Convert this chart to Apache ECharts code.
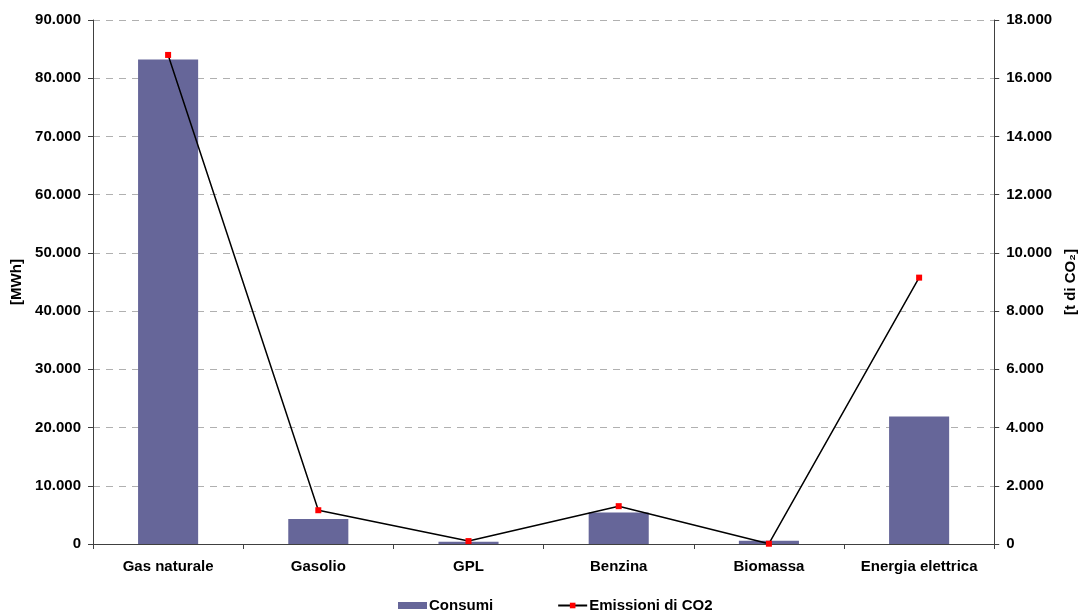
<!DOCTYPE html>
<html>
<head>
<meta charset="utf-8">
<script src="https://cdn.jsdelivr.net/npm/echarts@6/dist/echarts.min.js"></script>
<style>
  html, body { margin: 0; padding: 0; background: #ffffff; }
  #chart { width: 1086px; height: 614px; }
</style>
</head>
<body>
<div id="chart"></div>
<script>
// Energy consumption by source [MWh] and related CO2 emissions [t]
const categories = ['Gas naturale', 'Gasolio', 'GPL', 'Benzina', 'Biomassa', 'Energia elettrica'];
const consumi = [83200, 4300, 400, 5400, 550, 21900];
const emissioni = [16800, 1160, 100, 1300, 10, 9150];

// Italian thousands separator
function fmt(v) {
  return String(v).replace(/\B(?=(\d{3})+(?!\d))/g, '.');
}

const FONT = '"Liberation Sans", Arial, sans-serif';
const textStyle = { fontFamily: FONT, fontWeight: 'bold', fontSize: 15, color: '#000' };

const chart = echarts.init(document.getElementById('chart'), null, { renderer: 'canvas' });
chart.setOption({
  animation: false,
  backgroundColor: '#ffffff',
  textStyle: textStyle,
  grid: { left: 93, right: 83, top: 20, bottom: 70, containLabel: false },
  legend: {
    top: 593,
    left: 393,
    itemGap: 64,
    itemWidth: 29,
    itemHeight: 7,
    textStyle: Object.assign({}, textStyle, { padding: [0, 0, 0, -3] }),
    data: [
      { name: 'Consumi', icon: 'rect' },
      { name: 'Emissioni di CO2' }
    ]
  },
  xAxis: {
    type: 'category',
    data: categories,
    axisLine: { lineStyle: { color: '#404040', width: 1 } },
    axisTick: { show: true, length: 5, lineStyle: { color: '#404040' } },
    axisLabel: Object.assign({}, textStyle, { margin: 15, interval: 0 })
  },
  yAxis: [
    {
      type: 'value',
      min: 0, max: 90000, interval: 10000,
      name: '[MWh]',
      nameLocation: 'middle',
      nameRotate: 90,
      nameGap: 67,
      nameTextStyle: textStyle,
      axisLine: { show: true, lineStyle: { color: '#404040' } },
      axisTick: { show: true, length: 5, lineStyle: { color: '#404040' } },
      axisLabel: Object.assign({}, textStyle, { margin: 12, formatter: fmt }),
      splitLine: { show: true, lineStyle: { color: '#b0b0b0', type: [7, 6], width: 1 } }
    },
    {
      type: 'value',
      min: 0, max: 18000, interval: 2000,
      name: '[t di CO₂]',
      nameLocation: 'middle',
      nameRotate: 90,
      nameGap: 66,
      nameTextStyle: textStyle,
      position: 'right',
      axisLine: { show: true, lineStyle: { color: '#404040' } },
      axisTick: { show: true, length: 5, lineStyle: { color: '#404040' } },
      axisLabel: Object.assign({}, textStyle, { margin: 12, formatter: fmt }),
      splitLine: { show: false }
    }
  ],
  series: [
    {
      name: 'Consumi',
      type: 'bar',
      yAxisIndex: 0,
      data: consumi,
      barWidth: '40%',
      itemStyle: { color: '#666699' }
    },
    {
      name: 'Emissioni di CO2',
      type: 'line',
      yAxisIndex: 1,
      data: emissioni,
      symbol: 'rect',
      symbolSize: 6,
      itemStyle: { color: '#ff0000' },
      lineStyle: { color: '#000000', width: 1.5 }
    }
  ]
});
</script>
</body>
</html>
